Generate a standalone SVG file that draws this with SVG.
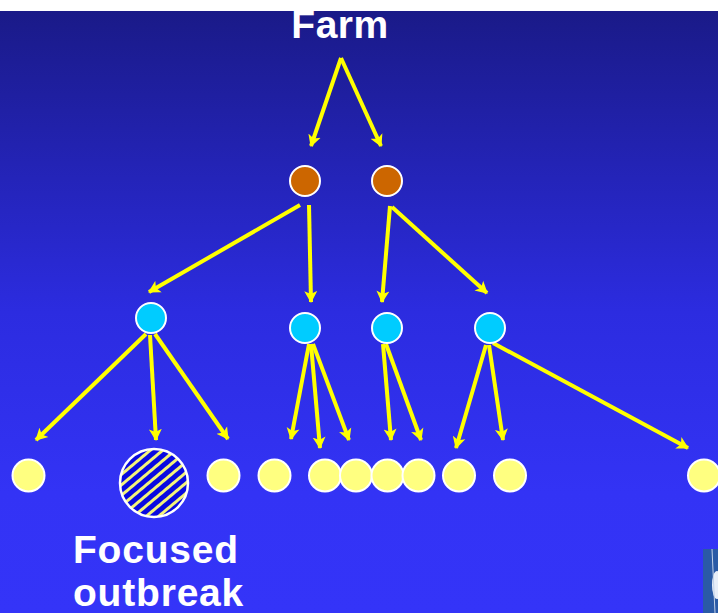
<svg xmlns="http://www.w3.org/2000/svg" width="718" height="613" viewBox="0 0 718 613">
  <defs>
    <linearGradient id="bg" x1="0" y1="11" x2="0" y2="613" gradientUnits="userSpaceOnUse">
      <stop offset="0" stop-color="#1a1a88"/>
      <stop offset="0.5" stop-color="#2c2ce0"/>
      <stop offset="0.8" stop-color="#3333f5"/>
      <stop offset="1" stop-color="#3434f8"/>
    </linearGradient>
    <marker id="arrow" markerUnits="userSpaceOnUse" markerWidth="14" markerHeight="14" refX="11" refY="7" orient="auto">
      <path d="M0,0.5 L12,7 L0,13.5 L3,7 Z" fill="#ffff00"/>
    </marker>
    <pattern id="hatch" patternUnits="userSpaceOnUse" width="8" height="8" patternTransform="rotate(-40)">
      <rect width="8" height="8" fill="#0a0ae0"/>
      <rect width="8" height="3" fill="#f4f47a"/>
    </pattern>
    <style>
      .edge { stroke: #ffff00; stroke-width: 4; fill: none; marker-end: url(#arrow); }
      .farm { fill: #cc6600; stroke: #ffffff; stroke-width: 2; }
      .herd { fill: #00ccff; stroke: #ffffff; stroke-width: 2; }
      .case { fill: #ffff80; stroke: #ffffff; stroke-width: 2; }
      .label { font-family: "Liberation Sans", Arial, sans-serif; font-weight: bold; fill: #ffffff; }
    </style>
  </defs>

  <!-- background -->
  <rect x="0" y="0" width="718" height="613" fill="#ffffff"/>
  <rect x="0" y="11" width="718" height="602" fill="url(#bg)"/>

  <text class="label" x="340" y="38" font-size="39" letter-spacing="0.5" text-anchor="middle">Farm</text>

  <!-- connectors -->
  <g id="connectors">
    <path class="edge" d="M341,58 L311,146"/>
    <path class="edge" d="M341,58 L381,146"/>
    <path class="edge" d="M300,205 L149,292"/>
    <path class="edge" d="M309,205 L311,302"/>
    <path class="edge" d="M390,206 L382,302"/>
    <path class="edge" d="M392,207 L487,293"/>

    <path class="edge" d="M146,334 L36,440"/>
    <path class="edge" d="M150,335 L156,440"/>
    <path class="edge" d="M155,334 L228,439"/>

    <path class="edge" d="M309,344 L291,439"/>
    <path class="edge" d="M311,344 L320,448"/>
    <path class="edge" d="M313,344 L349,440"/>

    <path class="edge" d="M383,344 L391,440"/>
    <path class="edge" d="M386,344 L421,440"/>

    <path class="edge" d="M486,345 L456,448"/>
    <path class="edge" d="M489,345 L503,440"/>
    <path class="edge" d="M493,343 L688,448"/>
  </g>

  <!-- source farms -->
  <g id="farm-1"><circle class="farm" cx="305" cy="181" r="15"/></g>
  <g id="farm-2"><circle class="farm" cx="387" cy="181" r="15"/></g>

  <!-- second-generation herds -->
  <g id="herd-1"><circle class="herd" cx="151" cy="318" r="15"/></g>
  <g id="herd-2"><circle class="herd" cx="305" cy="328" r="15"/></g>
  <g id="herd-3"><circle class="herd" cx="387" cy="328" r="15"/></g>
  <g id="herd-4"><circle class="herd" cx="490" cy="328" r="15"/></g>

  <!-- third-generation cases -->
  <g id="case-1"><circle class="case" cx="28.5" cy="475.5" r="16"/></g>
  <g id="outbreak">
    <circle cx="154" cy="483" r="34" fill="url(#hatch)" stroke="#ffffff" stroke-width="2.5"/>
  </g>
  <g id="case-3"><circle class="case" cx="223.5" cy="475.5" r="16"/></g>
  <g id="case-4"><circle class="case" cx="274.5" cy="475.5" r="16"/></g>
  <g id="case-5"><circle class="case" cx="325" cy="475.5" r="16"/></g>
  <g id="case-6"><circle class="case" cx="356" cy="475.5" r="16"/></g>
  <g id="case-7"><circle class="case" cx="387.5" cy="475.5" r="16"/></g>
  <g id="case-8"><circle class="case" cx="418.5" cy="475.5" r="16"/></g>
  <g id="case-9"><circle class="case" cx="459" cy="475.5" r="16"/></g>
  <g id="case-10"><circle class="case" cx="510" cy="475.5" r="16"/></g>
  <g id="case-11"><circle class="case" cx="704" cy="475.5" r="16"/></g>

  <text class="label" font-size="39" letter-spacing="0.8">
    <tspan x="73" y="563">Focused</tspan>
    <tspan x="73" y="606">outbreak</tspan>
  </text>

  <!-- corner photo fragment -->
  <g id="corner-photo">
    <rect x="703" y="549" width="15" height="64" fill="#2a5aa6"/>
    <ellipse cx="717" cy="585" rx="5" ry="14" fill="#e8eef8"/>
    <path d="M712,549 L715,613" stroke="#c0d0e8" stroke-width="1"/>
  </g>
</svg>
